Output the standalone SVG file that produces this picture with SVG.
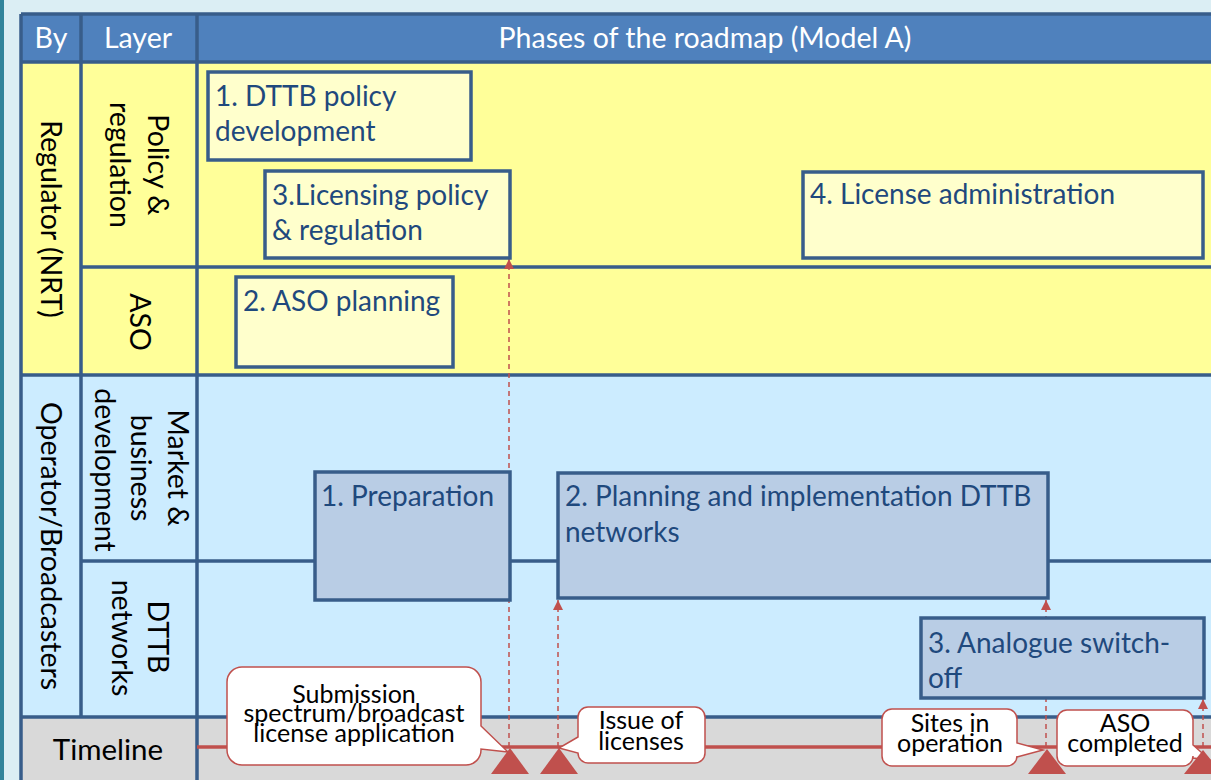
<svg xmlns="http://www.w3.org/2000/svg" width="1211" height="780" viewBox="0 0 1211 780">
<defs>
<style>
.ln{stroke:#385D8A;stroke-width:3.5;fill:none}
.t{font-family:Lato,"Open Sans",sans-serif}
.hd{font-size:28.5px;fill:#fff;text-anchor:middle}
.lb{font-size:28.5px;fill:#000;text-anchor:middle}
.by{fill:#FFFFCC;stroke:#385D8A;stroke-width:3.5}
.bb{fill:#B9CDE5;stroke:#385D8A;stroke-width:3.5}
.bt{font-size:28px;fill:#1F497D}
.dash{stroke:#C0504D;stroke-width:1.5;stroke-dasharray:5 4;fill:none}
.call{fill:#fff;stroke:#C0504D;stroke-width:1.5}
.ct{font-size:25px;fill:#000;text-anchor:middle}
.tri{fill:#C0504D}
</style>
<marker id="ah" viewBox="0 0 10 10" refX="10" refY="5" markerWidth="10" markerHeight="10" markerUnits="userSpaceOnUse" orient="auto">
<path d="M0,0 L10,5 L0,10 Z" fill="#C0504D"/>
</marker>
</defs>
<rect width="1211" height="780" fill="#DBEEF4"/>
<rect x="0" y="0" width="4" height="780" fill="#31849B"/>
<g id="table">
<rect x="21" y="14" width="1200" height="48" fill="#4F81BD"/>
<rect x="21" y="62" width="1200" height="313" fill="#FFFF99"/>
<rect x="21" y="375" width="1200" height="342" fill="#CCECFF"/>
<rect x="21" y="717" width="1200" height="70" fill="#D9D9D9"/>
<path class="ln" d="M21,14 H1215 M21,62 H1215 M81,267 H1215 M21,375 H1215 M81,561 H1215 M21,717 H1215 M21,14 V782 M81,14 V717 M197,14 V782"/>
<text class="t hd" x="51" y="48">By</text>
<text class="t hd" x="138" y="48">Layer</text>
<text class="t hd" x="705" y="48">Phases of the roadmap (Model A)</text>
<text class="t lb" transform="translate(41,219) rotate(90)">Regulator (NRT)</text>
<text class="t lb" transform="translate(148,165) rotate(90)">Policy &amp;</text>
<text class="t lb" transform="translate(110,165) rotate(90)">regulation</text>
<text class="t lb" transform="translate(130,322) rotate(90)">ASO</text>
<text class="t lb" transform="translate(41,546) rotate(90)">Operator/Broadcasters</text>
<text class="t lb" transform="translate(168,468) rotate(90)">Market &amp;</text>
<text class="t lb" transform="translate(131,468) rotate(90)">business</text>
<text class="t lb" transform="translate(95,470) rotate(90)">development</text>
<text class="t lb" transform="translate(148,637) rotate(90)">DTTB</text>
<text class="t lb" transform="translate(112,638) rotate(90)">networks</text>
<text class="t lb" x="108" y="760" style="font-size:29.5px">Timeline</text>
</g>
<g id="connectors">
<line class="dash" x1="509" y1="747" x2="509" y2="259" marker-end="url(#ah)"/>
<line class="dash" x1="558" y1="747" x2="558" y2="600" marker-end="url(#ah)"/>
<line class="dash" x1="1046" y1="747" x2="1046" y2="600" marker-end="url(#ah)"/>
<line class="dash" x1="1203" y1="747" x2="1203" y2="699" marker-end="url(#ah)"/>
</g>
<g id="n-dttb-policy">
<rect class="by" x="208" y="72" width="263" height="88"/>
<text class="t bt" x="215" y="106">1. DTTB policy</text>
<text class="t bt" x="215" y="141">development</text>
</g>
<g id="n-licensing">
<rect class="by" x="265" y="171" width="245" height="87"/>
<text class="t bt" x="272" y="205">3.Licensing policy</text>
<text class="t bt" x="272" y="240">&amp; regulation</text>
</g>
<g id="n-license-admin">
<rect class="by" x="803" y="172" width="400" height="86"/>
<text class="t bt" x="810" y="204">4. License administration</text>
</g>
<g id="n-aso-planning">
<rect class="by" x="236" y="277" width="217" height="90"/>
<text class="t bt" x="243" y="311">2. ASO planning</text>
</g>
<g id="n-preparation">
<rect class="bb" x="315" y="472" width="195" height="128"/>
<text class="t bt" x="321" y="506">1. Preparation</text>
</g>
<g id="n-planning">
<rect class="bb" x="558" y="473" width="490" height="125"/>
<text class="t bt" x="565" y="506">2. Planning and implementation DTTB</text>
<text class="t bt" x="565" y="542">networks</text>
</g>
<g id="n-switchoff">
<rect class="bb" x="921" y="618" width="283" height="80"/>
<text class="t bt" x="928" y="653">3. Analogue switch-</text>
<text class="t bt" x="928" y="688">off</text>
</g>
<g id="timeline">
<line x1="197" y1="747" x2="1211" y2="747" stroke="#C0504D" stroke-width="3.5"/>
</g>
<g id="m-submission">
<path class="call" d="M242,667 H466 A15,15 0 0 1 481,682 V726 L508,752 L481,749 V750 A15,15 0 0 1 466,765 H242 A15,15 0 0 1 227,750 V682 A15,15 0 0 1 242,667 Z"/>
<text class="t ct" x="354" y="703">Submission</text>
<text class="t ct" x="354" y="722">spectrum/broadcast</text>
<text class="t ct" x="354" y="742">license application</text>
<polygon class="tri" points="510,748 491,774 529,774"/>
</g>
<g id="m-issue">
<path class="call" d="M588,707 H695 A10,10 0 0 1 705,717 V753 A10,10 0 0 1 695,763 H588 A10,10 0 0 1 578,753 L559,748 L578,737 V717 A10,10 0 0 1 588,707 Z"/>
<text class="t ct" x="641" y="729">Issue of</text>
<text class="t ct" x="641" y="750">licenses</text>
<polygon class="tri" points="559,748 540,774 578,774"/>
</g>
<g id="m-sites">
<path class="call" d="M892,709 H1007 A10,10 0 0 1 1017,719 V743 L1043,750 L1017,757 V756 A10,10 0 0 1 1007,766 H892 A10,10 0 0 1 882,756 V719 A10,10 0 0 1 892,709 Z"/>
<text class="t ct" x="950" y="732">Sites in</text>
<text class="t ct" x="950" y="752">operation</text>
<polygon class="tri" points="1047,749 1028,774 1066,774"/>
</g>
<g id="m-aso">
<path class="call" d="M1067,710 H1183 A10,10 0 0 1 1193,720 V745 L1210,760 L1193,758 V756 A10,10 0 0 1 1183,766 H1067 A10,10 0 0 1 1057,756 V720 A10,10 0 0 1 1067,710 Z"/>
<text class="t ct" x="1125" y="732">ASO</text>
<text class="t ct" x="1125" y="752">completed</text>
<polygon class="tri" points="1203,750 1184,774 1222,774"/>
</g>
</svg>
